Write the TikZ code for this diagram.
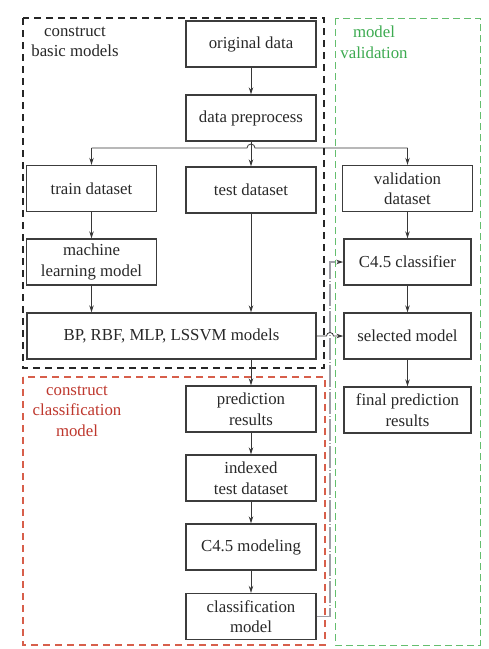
\documentclass[tikz,border=0pt]{standalone}
\usepackage{fontspec}
\setmainfont{Liberation Serif}
\usetikzlibrary{arrows.meta}
\definecolor{boxc}{RGB}{60,60,60}
\definecolor{arrc}{RGB}{55,55,55}
\definecolor{txtc}{RGB}{40,40,40}
\definecolor{redfr}{RGB}{215,95,75}
\definecolor{redtx}{RGB}{190,55,45}
\definecolor{grnfr}{RGB}{100,190,110}
\definecolor{grntx}{RGB}{60,170,80}
\definecolor{grayln}{RGB}{160,160,168}
\begin{document}
\begin{tikzpicture}[x=1pt,y=-1pt,
  box/.style={draw=boxc,line width=1.4pt,minimum width=130pt,minimum height=46pt,
    align=center,inner sep=2pt,text=txtc,font=\fontsize{16.8}{20.5}\selectfont},
  lbl/.style={align=center,inner sep=0pt,font=\fontsize{16.8}{20.5}\selectfont},
  ln/.style={draw=arrc,line width=0.8pt},
  arr/.style={ln,-{Stealth[length=7pt,width=4.5pt]}},
  grayarr/.style={draw=grayln,line width=1.5pt,dash pattern=on 22pt off 2pt on 1pt off 2pt,
    -{Stealth[length=7pt,width=4.5pt,color=arrc]}},
  frameblack/.style={draw=black!85,line width=1.2pt,dash pattern=on 7pt off 5pt},
  framered/.style={draw=redfr,line width=1.2pt,dash pattern=on 7pt off 5pt},
  framegreen/.style={draw=grnfr,line width=0.9pt,dash pattern=on 7pt off 4pt}]
\useasboundingbox (0,0) rectangle (489,649);
% frames
\draw[frameblack] (23,18) rectangle (324,368);
\draw[framered] (23,377) rectangle (325,645);
\draw[framegreen] (335,18) rectangle (480,645);
% labels
\node[lbl,text=black!85] (lblbasic) at (75,42) {construct\\basic models};
\node[lbl,text=grntx] (lblval) at (374,42) {model\\validation};
\node[lbl,text=redtx] (lblcls) at (77,411) {construct\\classification\\model};
% nodes
\node[box] (orig) at (251,44) {original data};
\node[box] (prep) at (251,118) {data preprocess};
\node[box] (train) at (91.5,188.5) {train dataset};
\node[box] (test) at (251,190) {test dataset};
\node[box] (val) at (407.5,188.5) {validation\\dataset};
\node[box] (ml) at (91.5,262) {machine\\learning model};
\node[box,minimum width=127pt] (c45) at (407.5,262) {C4.5 classifier};
\node[box,minimum width=289pt] (bp) at (171.5,336) {BP, RBF, MLP, LSSVM models};
\node[box,minimum width=127pt] (sel) at (407.5,336) {selected model};
\node[box] (pred) at (251,409) {prediction\\results};
\node[box,minimum width=127pt] (fin) at (407.5,410) {final prediction\\results};
\node[box] (idx) at (251,478) {indexed\\test dataset};
\node[box] (c45m) at (251,547) {C4.5 modeling};
\node[box] (cls) at (251,616.5) {classification\\model};
\coordinate (split) at (251,148);
\coordinate (gx) at (330,0);
% connectors
\draw[arr] (orig) -- (prep);
\draw[arr] (prep) -- (test);
\draw[ln] (train.north |- split) -- ([xshift=-4pt]split) arc (180:360:4) -- (val.north |- split);
\draw[arr] (train.north |- split) -- (train.north);
\draw[arr] (val.north |- split) -- (val.north);
\draw[arr] (train) -- (ml);
\draw[arr] (ml.south) -- (ml.south |- bp.north);
\draw[arr] (test) -- (test.south |- bp.north);
\draw[arr] (test.south |- bp.south) -- (pred.north);
\draw[arr] (val) -- (c45);
\draw[arr] (c45) -- (sel);
\draw[arr] (sel) -- (fin);
\draw[arr] (pred) -- (idx);
\draw[arr] (idx) -- (c45m);
\draw[arr] (c45m) -- (cls);
\draw[grayarr] (cls.east) -- (cls.east -| gx) -- (c45.west -| gx) -- (c45.west);
\draw[arr] (bp.east) -- ([xshift=-3.5pt]bp.east -| gx) arc (180:360:3.5) -- (sel.west);
\end{tikzpicture}
\end{document}
